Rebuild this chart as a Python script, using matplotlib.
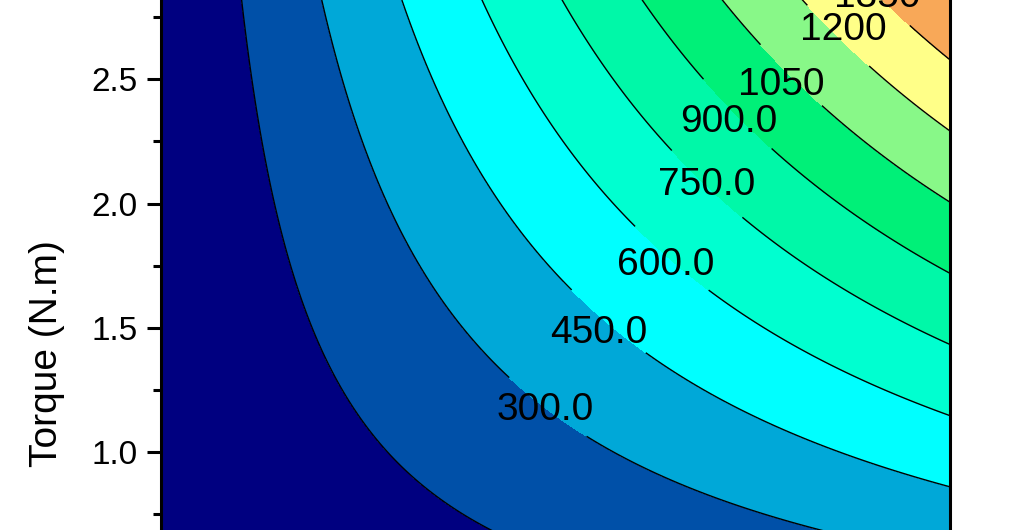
import numpy as np
import matplotlib.pyplot as plt
from matplotlib.ticker import MultipleLocator

plt.rcParams['font.family'] = ['Liberation Sans', 'DejaVu Sans']

# map axes: motor speed (rpm) and torque (N.m)
speed_rpm = np.linspace(0, 5000, 501)
torque_nm = np.linspace(0.5, 3.0, 251)

# output power contour levels (W) and their fill colours
levels = [0, 150, 300, 450, 600, 750, 900, 1050, 1200, 1350, 1500, 1650]
fill_colors = ['#000080', '#0050A8', '#00A8D8', '#00FFFF', '#00FFD0',
               '#00F8A8', '#00F078', '#88F888', '#FFFF88', '#F8A858', '#F07040']

label_values = [300, 450, 600, 750, 900, 1050, 1200, 1350]
label_spots = [(2436, 1.169), (2774, 1.479), (3200, 1.753), (3454, 2.075),
               (3600, 2.328), (3931, 2.477), (4326, 2.698), (4536, 2.83)]


def fmt(v):
    if v < 1000:
        return "%.1f" % v
    return "%.0f" % v


S, T = np.meshgrid(speed_rpm, torque_nm)
power_w = T * S * 2 * np.pi / 60  # P = T * omega

fig = plt.figure(figsize=(10.1, 5.3), dpi=100)
ax = fig.add_axes([0.1599, -0.0870, 0.7807, 1.1717])

ax.contourf(S, T, power_w, levels=levels, colors=fill_colors)
plain = [v for v in levels[1:] if v not in label_values]
ax.contour(S, T, power_w, levels=plain, colors='black', linewidths=1.0)
cs = ax.contour(S, T, power_w, levels=label_values, colors='black', linewidths=1.0)
lbls = ax.clabel(cs, fmt=fmt, fontsize=28, inline=True,
                 inline_spacing=0, manual=label_spots)
# horizontal labels, sitting where the reference puts them
for t, spot in zip(lbls, label_spots):
    t.set_rotation(0)
    t.set_position(spot)

ax.set_xlim(0, 5000)
ax.set_ylim(0.5, 3.0)
ax.yaxis.set_major_locator(MultipleLocator(0.5))
ax.yaxis.set_minor_locator(MultipleLocator(0.25))
ax.tick_params(axis='y', which='major', direction='out', length=10, width=2.2,
               pad=7, labelsize=24, right=False)
ax.tick_params(axis='y', which='minor', direction='out', length=5.8, width=2.2,
               right=False)
for sp in ax.spines.values():
    sp.set_linewidth(2.2)

ax.set_ylabel('Torque (N.m)', fontsize=28)
ax.yaxis.set_label_coords(-0.1225, 0.359)

fig.savefig('out.png', dpi=100)
